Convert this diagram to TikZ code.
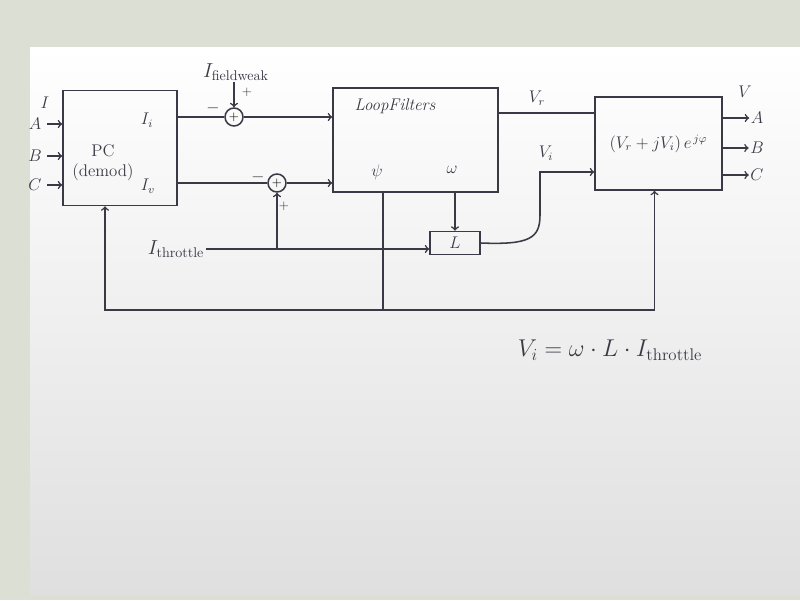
\documentclass[tikz,border=0pt]{standalone}
\usepackage{amsmath}
\usepackage{xcolor}
\usepackage{tikz}
\definecolor{pen}{HTML}{3A3A46}
\definecolor{desk}{HTML}{DCDFD3}

\begin{document}
\begin{tikzpicture}[x=0.025cm,y=-0.025cm,
  ink/.style={pen,line width=1.1pt},
  blk/.style={draw=pen,line width=1.1pt,inner sep=0pt},
  summ/.style={draw=pen,line width=1.1pt,circle,minimum size=0.45cm,inner sep=0pt,font=\small},
  lbl/.style={text=pen,inner sep=1pt,font=\large}]
\useasboundingbox (0,0) rectangle (800,600);
\fill[desk] (0,0) rectangle (800,600);
\shade[top color=white,bottom color=gray!25] (30,47) rectangle (800,595);

% blocks
\node[blk,minimum width=2.85cm,minimum height=2.875cm] (pc) at (120,148) {};
\node[blk,minimum width=4.125cm,minimum height=2.6cm] (lf) at (415.5,140) {};
\node[blk,minimum width=1.25cm,minimum height=0.575cm,font=\large,text=pen] (L) at (455,243) {$L$};
\node[blk,minimum width=3.175cm,minimum height=2.325cm,font=\large,text=pen] (rb) at (658.5,143.5) {$(V_r+jV_i)\,e^{\,j\varphi}$};
\node[summ] (s1) at (234,117) {$+$};
\node[summ] (s2) at (277,183) {$+$};

% texts in the blocks
\node[lbl,align=center] (pcname) at (103,163) {PC\\(demod)};
\node[lbl] (Ii) at (147,120) {$I_i$};
\node[lbl] (Iv) at (148,186) {$I_v$};
\node[lbl] (lfname) at (395,106) {\textit{LoopFilters}};
\node[lbl] (psi) at (377,172) {$\psi$};
\node[lbl] (om) at (452,170) {$\omega$};

% inputs of PC
\node[lbl] (Iin) at (45,103) {$I$};
\foreach \n/\y in {A/124,B/156,C/185}{
  \node[lbl] (in\n) at (35,\y) {$\n$};
  \draw[ink,->] (in\n.east) ++(0.1cm,0) -- (pc.west |- in\n);
}

% outputs
\node[lbl] (Vout) at (745,92) {$V$};
\foreach \n/\y in {A/118,B/148,C/175}{
  \node[lbl] (out\n) at (757,\y) {$\n$};
  \draw[ink,->] (rb.east |- out\n) -- (out\n.west);
}

% summing points
\node[lbl,font=\Large] (fw) at (236,72) {$I_{\text{fieldweak}}$};
\node[lbl] at (213,108) {$-$};
\node[lbl,font=\small] at (247,92) {$+$};
\node[lbl] at (258,177) {$-$};
\node[lbl,font=\small] at (284,206) {$+$};
\draw[ink] (pc.east |- s1) -- (s1.west);
\draw[ink,->] (s1 |- fw.south) -- (s1.north);
\draw[ink,->] (s1.east) -- (lf.west |- s1);
\draw[ink] (pc.east |- s2) -- (s2.west);
\draw[ink,->] (s2.east) -- (lf.west |- s2);

% throttle current
\node[lbl,font=\Large] (thr) at (176,249) {$I_{\text{throttle}}$};
\draw[ink,->] (thr.east) -- (thr.east -| L.west);
\draw[ink,->] (thr.east -| s2) -- (s2.south);
\draw[ink,->] (lf.south -| L.north) -- (L.north);

% voltages
\node[lbl] (Vr) at (537,98) {$V_r$};
\node[lbl] (Vi) at (546,153) {$V_i$};
\draw[ink] (lf.east |- 0,113) -- (rb.west |- 0,113);
\draw[ink,->] (L.east) .. controls (530,245) and (540,238) .. (540,215) -- (540,172) -- (rb.west |- 0,172);

% angle feedback
\coordinate (junc) at (383,310);
\draw[ink] (lf.south -| junc) -- (junc);
\draw[ink,->] (junc) -| ([xshift=-0.375cm]pc.south);
\draw[ink,->] (junc) -| ([xshift=-0.1cm]rb.south);

\node[lbl,font=\LARGE] (eq) at (610,350) {$V_i = \omega\cdot L\cdot I_{\text{throttle}}$};
\end{tikzpicture}
\end{document}
